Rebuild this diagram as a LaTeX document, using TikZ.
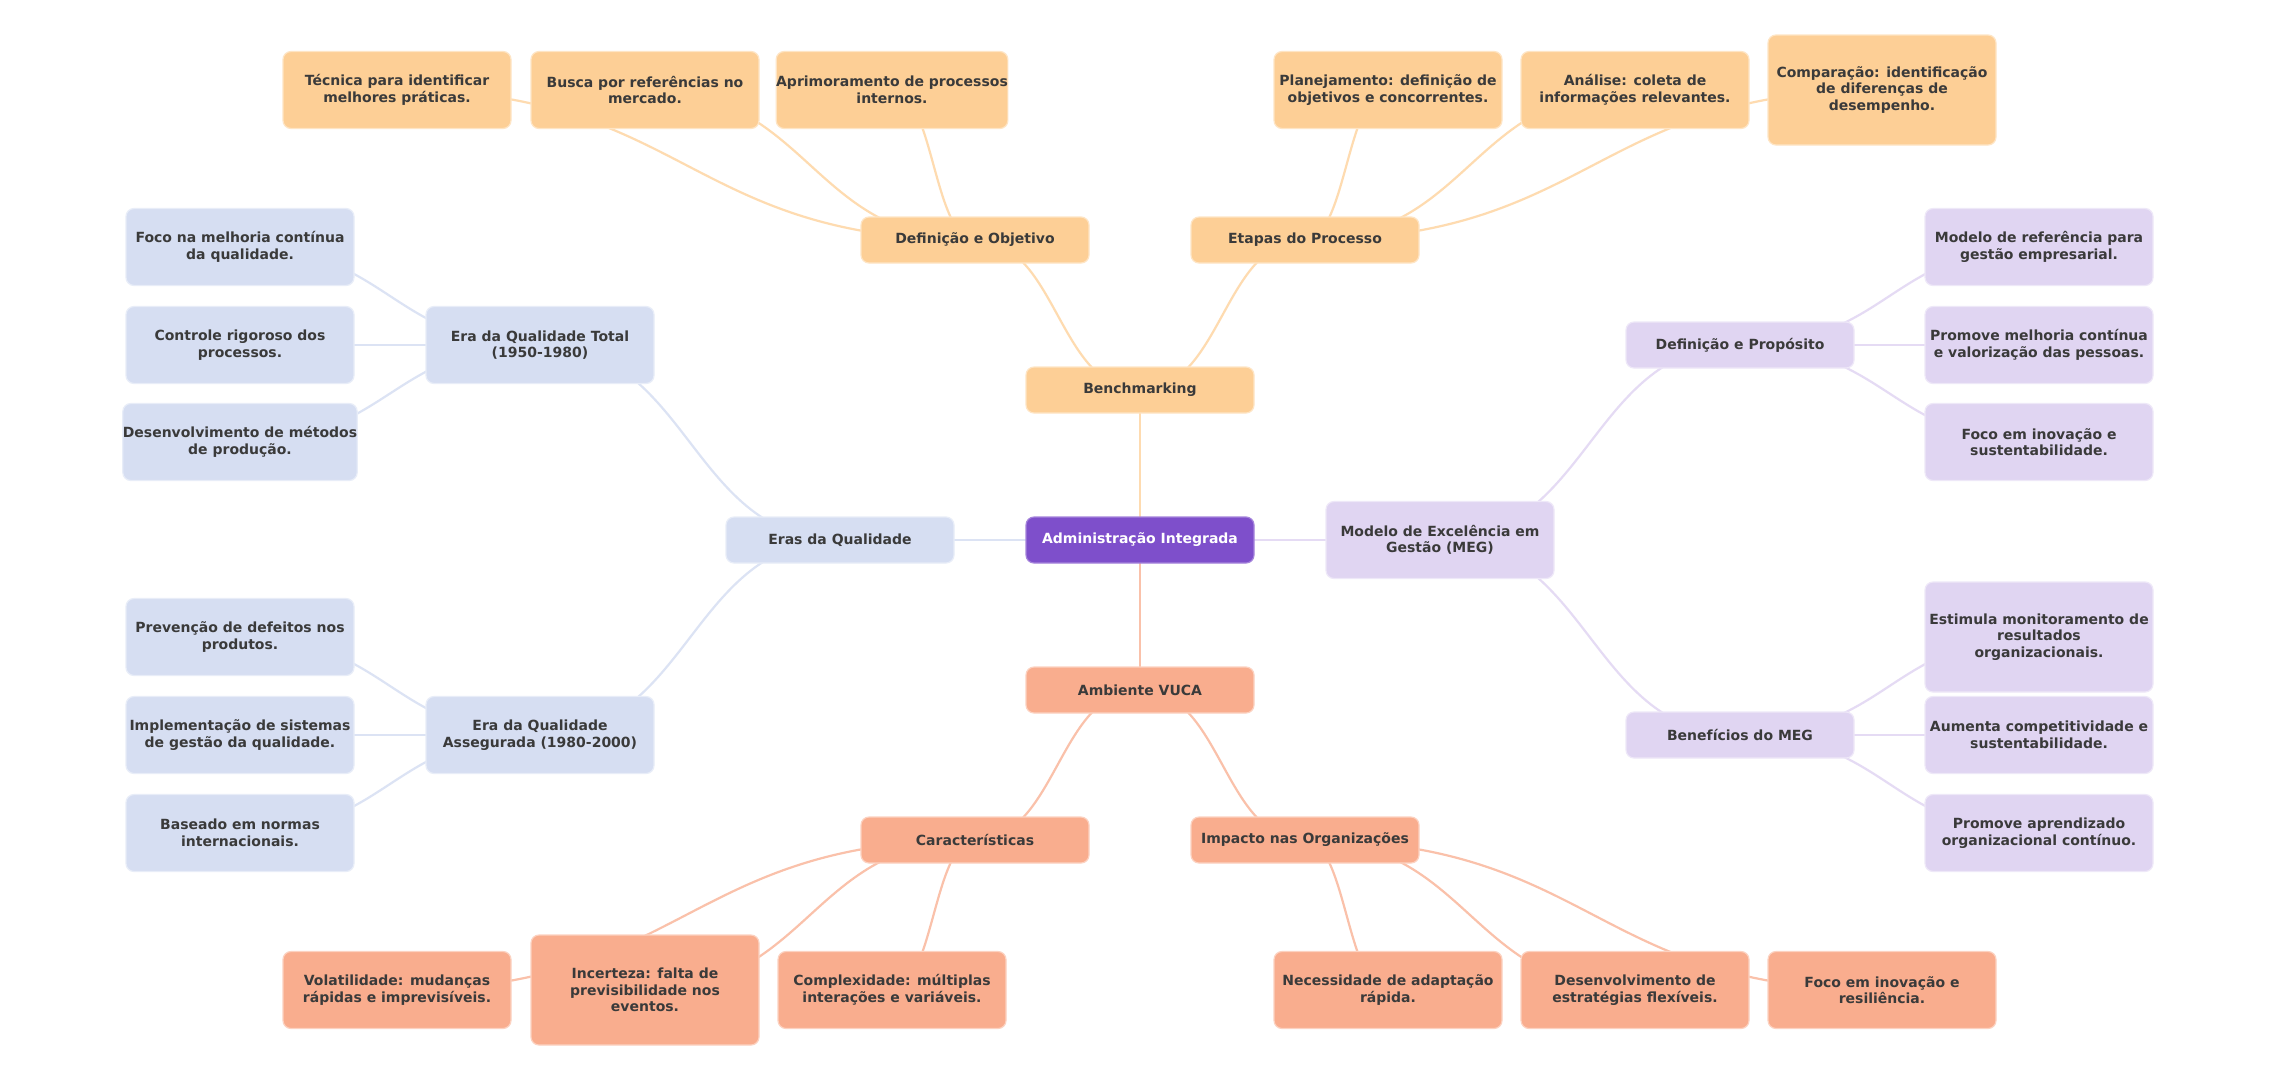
\documentclass[tikz,border=0pt]{standalone}
\usepackage{fontspec}
\setmainfont{DejaVu Sans}
\usetikzlibrary{calc,backgrounds}

\definecolor{txt}{HTML}{3A3A3A}
\definecolor{rootc}{HTML}{7E4FCB}
\definecolor{orangec}{HTML}{FDCF96}
\definecolor{bluec}{HTML}{D6DEF2}
\definecolor{lilac}{HTML}{E0D5F2}
\definecolor{salmon}{HTML}{F9AD8E}

\tikzset{
  box/.style={rectangle, rounded corners=8pt, minimum width=228pt, minimum height=46pt,
    inner sep=0pt, align=center, text=txt, fill=#1, draw=#1!55!white, line width=1.2pt,
    font=\fontsize{14}{16.5}\selectfont\bfseries},
  twoline/.style={minimum height=77pt},
  threeline/.style={minimum height=110pt},
  % horizontal s-curve between two centres
  link/.style={line width=2.2pt, draw=#1,
    to path={.. controls ($(\tikztostart)!0.5!(\tikztostart-|\tikztotarget)$)
      and ($(\tikztotarget)!0.5!(\tikztotarget-|\tikztostart)$) .. (\tikztotarget)}},
}

\begin{document}
\begin{tikzpicture}[x=1pt,y=-1pt]
    \useasboundingbox (0,0) rectangle (2280,1080);

    % Centre and main branches
    \node[box=rootc, draw=rootc!70!white, text=white] (root) at (1140,540) {Administração Integrada};
    \node[box=orangec] (bench) at (1140,390) {Benchmarking};
    \node[box=salmon] (vuca) at (1140,690) {Ambiente VUCA};
    \node[box=bluec] (eras) at (840,540) {Eras da Qualidade};
    \node[box=lilac, twoline] (meg) at (1440,540) {Modelo de Excelência em\\Gestão (MEG)};

    % Benchmarking
    \node[box=orangec] (defobj) at (975,240) {Definição e Objetivo};
    \node[box=orangec] (etapas) at (1305,240) {Etapas do Processo};
    \node[box=orangec, twoline] (tecnica) at (397,90) {Técnica para identificar\\melhores práticas.};
    \node[box=orangec, twoline] (busca) at (645,90) {Busca por referências no\\mercado.};
    \node[box=orangec, twoline] (aprim) at (892,90) {Aprimoramento de processos\\internos.};
    \node[box=orangec, twoline] (planej) at (1388,90) {Planejamento: definição de\\objetivos e concorrentes.};
    \node[box=orangec, twoline] (analise) at (1635,90) {Análise: coleta de\\informações relevantes.};
    \node[box=orangec, threeline] (compar) at (1882,90) {Comparação: identificação\\de diferenças de\\desempenho.};

    % Ambiente VUCA
    \node[box=salmon] (caract) at (975,840) {Características};
    \node[box=salmon] (impacto) at (1305,840) {Impacto nas Organizações};
    \node[box=salmon, twoline] (volat) at (397,990) {Volatilidade: mudanças\\rápidas e imprevisíveis.};
    \node[box=salmon, threeline] (incert) at (645,990) {Incerteza: falta de\\previsibilidade nos\\eventos.};
    \node[box=salmon, twoline] (complex) at (892,990) {Complexidade: múltiplas\\interações e variáveis.};
    \node[box=salmon, twoline] (necess) at (1388,990) {Necessidade de adaptação\\rápida.};
    \node[box=salmon, twoline] (desenv) at (1635,990) {Desenvolvimento de\\estratégias flexíveis.};
    \node[box=salmon, twoline] (focores) at (1882,990) {Foco em inovação e\\resiliência.};

    % Eras da Qualidade
    \node[box=bluec, twoline] (total) at (540,345) {Era da Qualidade Total\\(1950-1980)};
    \node[box=bluec, twoline] (asseg) at (540,735) {Era da Qualidade\\Assegurada (1980-2000)};
    \node[box=bluec, twoline] (focomel) at (240,247) {Foco na melhoria contínua\\da qualidade.};
    \node[box=bluec, twoline] (controle) at (240,345) {Controle rigoroso dos\\processos.};
    \node[box=bluec, twoline] (metodos) at (240,442) {Desenvolvimento de métodos\\de produção.};
    \node[box=bluec, twoline] (prevencao) at (240,637) {Prevenção de defeitos nos\\produtos.};
    \node[box=bluec, twoline] (implem) at (240,735) {Implementação de sistemas\\de gestão da qualidade.};
    \node[box=bluec, twoline] (normas) at (240,833) {Baseado em normas\\internacionais.};

    % MEG
    \node[box=lilac] (defprop) at (1740,345) {Definição e Propósito};
    \node[box=lilac] (benef) at (1740,735) {Benefícios do MEG};
    \node[box=lilac, twoline] (referencia) at (2039,247) {Modelo de referência para\\gestão empresarial.};
    \node[box=lilac, twoline] (promove) at (2039,345) {Promove melhoria contínua\\e valorização das pessoas.};
    \node[box=lilac, twoline] (focosust) at (2039,442) {Foco em inovação e\\sustentabilidade.};
    \node[box=lilac, threeline] (estimula) at (2039,637) {Estimula monitoramento de\\resultados\\organizacionais.};
    \node[box=lilac, twoline] (aumenta) at (2039,735) {Aumenta competitividade e\\sustentabilidade.};
    \node[box=lilac, twoline] (aprend) at (2039,833) {Promove aprendizado\\organizacional contínuo.};

    % Connectors behind the boxes
    \begin{scope}[on background layer]
        \fill[white] (0,0) rectangle (2280,1080);
        \foreach \a/\b in {root/bench, bench/defobj, bench/etapas, defobj/tecnica, defobj/busca,
            defobj/aprim, etapas/planej, etapas/analise, etapas/compar}
            \draw[link=orangec!75!white] (\a.center) to (\b.center);
        \foreach \a/\b in {root/vuca, vuca/caract, vuca/impacto, caract/volat, caract/incert,
            caract/complex, impacto/necess, impacto/desenv, impacto/focores}
            \draw[link=salmon!75!white] (\a.center) to (\b.center);
        \foreach \a/\b in {root/eras, eras/total, eras/asseg, total/focomel, total/controle,
            total/metodos, asseg/prevencao, asseg/implem, asseg/normas}
            \draw[link=bluec!85!white] (\a.center) to (\b.center);
        \foreach \a/\b in {root/meg, meg/defprop, meg/benef, defprop/referencia, defprop/promove,
            defprop/focosust, benef/estimula, benef/aumenta, benef/aprend}
            \draw[link=lilac!85!white] (\a.center) to (\b.center);
    \end{scope}
\end{tikzpicture}
\end{document}
